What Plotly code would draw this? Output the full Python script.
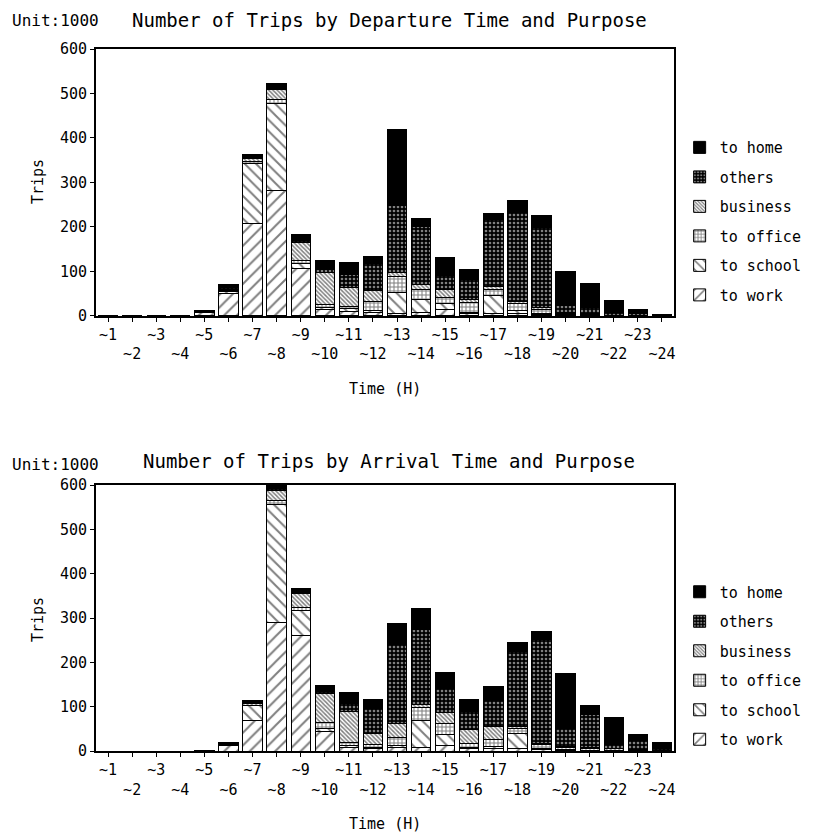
import plotly.graph_objects as go
from plotly.subplots import make_subplots

hours = list(range(1, 25))
tick_labels = [("~%d" % h) if h % 2 else ("<br>~%d" % h) for h in hours]
purposes = ["to work", "to school", "to office", "business", "others", "to home"]

# Departure (unit: 1000 trips)
dep_work     = [0, 0, 0, 0, 7, 50, 207, 283, 107, 15, 10, 8, 5, 8, 15, 5, 5, 5, 3, 2, 1, 0, 0, 0]
dep_school   = [0, 0, 0, 0, 2, 5, 135, 195, 10, 5, 6, 4, 48, 30, 12, 3, 40, 8, 2, 1, 1, 0, 0, 0]
dep_office   = [0, 0, 0, 0, 1, 3, 5, 8, 8, 5, 6, 20, 35, 22, 15, 22, 15, 15, 10, 3, 2, 1, 1, 0]
dep_business = [0, 0, 0, 0, 0, 2, 7, 22, 40, 72, 42, 25, 10, 10, 18, 8, 6, 5, 3, 2, 2, 1, 1, 0]
dep_others   = [0, 0, 0, 0, 0, 3, 3, 4, 5, 8, 30, 60, 150, 130, 30, 45, 150, 200, 180, 15, 12, 5, 4, 1]
dep_home     = [0, 0, 0, 1, 2, 7, 5, 10, 12, 20, 26, 16, 170, 20, 41, 21, 15, 26, 27, 77, 55, 27, 9, 3]

# Arrival (unit: 1000 trips)
arr_work     = [0, 0, 0, 0, 1, 12, 69, 289, 261, 45, 8, 5, 8, 9, 12, 5, 5, 5, 3, 2, 1, 0, 0, 0]
arr_school   = [0, 0, 0, 0, 0, 3, 34, 268, 55, 5, 4, 2, 5, 60, 25, 3, 5, 35, 3, 1, 1, 0, 0, 0]
arr_office   = [0, 0, 0, 0, 0, 1, 0, 8, 7, 15, 8, 8, 18, 30, 25, 10, 15, 10, 8, 4, 4, 2, 1, 0]
arr_business = [0, 0, 0, 0, 0, 1, 4, 23, 32, 65, 68, 25, 30, 5, 25, 30, 30, 5, 2, 3, 2, 3, 2, 1]
arr_others   = [0, 0, 0, 0, 0, 1, 1, 4, 2, 5, 20, 55, 180, 170, 55, 40, 60, 170, 235, 40, 75, 10, 20, 4]
arr_home     = [0, 0, 0, 0, 1, 2, 6, 8, 10, 13, 23, 21, 47, 47, 36, 28, 31, 19, 18, 125, 20, 60, 15, 15]

dep_series = [dep_work, dep_school, dep_office, dep_business, dep_others, dep_home]
arr_series = [arr_work, arr_school, arr_office, arr_business, arr_others, arr_home]

patterns = [
    dict(shape="/", size=9, solidity=0.22, fgcolor="black", bgcolor="white"),
    dict(shape="\\", size=8, solidity=0.25, fgcolor="black", bgcolor="white"),
    dict(shape="+", size=4, solidity=0.45, fgcolor="black", bgcolor="white"),
    dict(shape="\\", size=3, solidity=0.5, fgcolor="black", bgcolor="white"),
    dict(shape=".", size=4, solidity=0.35, fgcolor="white", bgcolor="black"),
    dict(shape="", fgcolor="black", bgcolor="black"),
]

FONT = "DejaVu Sans Mono"

fig = make_subplots(rows=2, cols=1, vertical_spacing=0.24)
fig.update_layout(
    xaxis=dict(domain=[0, 1]), yaxis=dict(domain=[0.6197, 1.0]),
    xaxis2=dict(domain=[0, 1]), yaxis2=dict(domain=[0.0, 0.3789]),
)

for row, series, leg, pre in [(1, dep_series, "legend", "d"), (2, arr_series, "legend2", "a")]:
    for k, (name, vals, pat) in enumerate(zip(purposes, series, patterns)):
        fig.add_trace(go.Bar(
            x=hours, y=vals, name=name, legend=leg, legendgroup=pre + name,
            legendrank=1000 - k,
            marker=dict(color="black" if name == "to home" else "white",
                        pattern=pat, line=dict(color="black", width=1)),
        ), row=row, col=1)

axis_common = dict(showline=True, linecolor="black", linewidth=2, mirror=True,
                   showgrid=False, zeroline=False, ticks="outside", ticklen=4,
                   tickcolor="black", tickfont=dict(family=FONT, size=15, color="black"))
for r in (1, 2):
    fig.update_xaxes(range=[0.5, 24.5], tickmode="array", tickvals=hours, tickangle=0,
                     ticktext=tick_labels, row=r, col=1, **axis_common)
    fig.update_yaxes(range=[0, 600], tickmode="array", tickvals=[0, 100, 200, 300, 400, 500, 600],
                     row=r, col=1, **axis_common)

legend_common = dict(font=dict(family=FONT, size=15, color="black"),
                     traceorder="grouped", tracegroupgap=7,
                     bgcolor="rgba(0,0,0,0)", xanchor="left", yanchor="top")
fig.update_layout(
    barmode="stack", bargap=0.2,
    width=810, height=827,
    margin=dict(l=88, r=143, t=41, b=84),
    paper_bgcolor="white", plot_bgcolor="white",
    font=dict(family=FONT, color="black"),
    legend=dict(x=1.008, y=0.883, **legend_common),
    legend2=dict(x=1.008, y=0.250, **legend_common),
)

ann = []
def text(x, y, s, size=15, **kw):
    ann.append(dict(x=x, y=y, xref="paper", yref="paper", text=s, showarrow=False,
                    font=dict(family=FONT, size=size, color="black"), **kw))

# paper coords (screen px): x = (px-96)/579 ; y = (751-py)/702
text((10 - 96) / 579, (751 - 21) / 702, "Unit:1000", size=16, xanchor="left", yanchor="middle")
text((390 - 96) / 579, (751 - 20) / 702, "Number of Trips by Departure Time and Purpose", size=19,
     xanchor="center", yanchor="middle")
text((10 - 96) / 579, (751 - 464) / 702, "Unit:1000", size=16, xanchor="left", yanchor="middle")
text((390 - 96) / 579, (751 - 461) / 702, "Number of Trips by Arrival Time and Purpose", size=19,
     xanchor="center", yanchor="middle")
text((386 - 96) / 579, (751 - 389) / 702, "Time (H)", xanchor="center", yanchor="middle")
text((386 - 96) / 579, (751 - 824) / 702, "Time (H)", xanchor="center", yanchor="middle")
text((38 - 96) / 579, (751 - 182) / 702, "Trips", textangle=-90, xanchor="center", yanchor="middle")
text((38 - 96) / 579, (751 - 620) / 702, "Trips", textangle=-90, xanchor="center", yanchor="middle")
fig.update_layout(annotations=ann)

fig.write_html("out.html")
